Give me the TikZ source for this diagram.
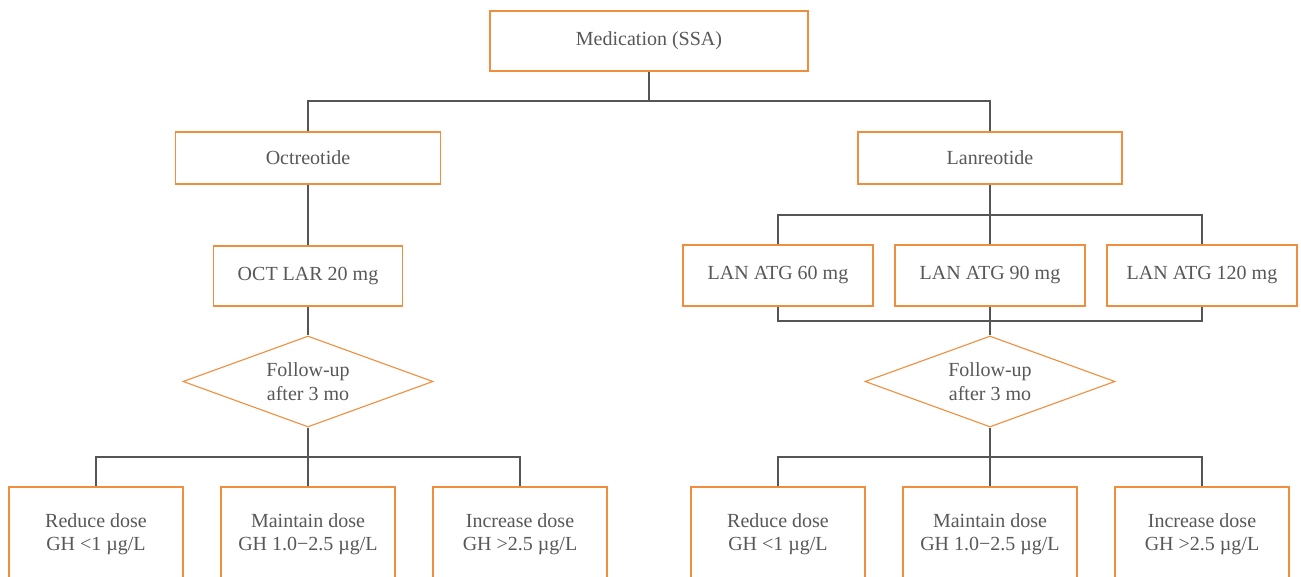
\documentclass[tikz,border=0pt]{standalone}
\usepackage{fontspec}
\setmainfont{Liberation Serif}
\usetikzlibrary{shapes.geometric}
\definecolor{boxorange}{RGB}{241,142,62}
\definecolor{linegray}{RGB}{85,85,85}
\definecolor{textgray}{RGB}{88,88,88}
\begin{document}
\begin{tikzpicture}[x=1pt,y=-1pt,
  box/.style={draw=boxorange, line width=1.2pt, fill=white, text=textgray,
    font=\fontsize{20}{23.5}\selectfont, align=center, inner sep=0pt},
  dmd/.style={diamond, draw=boxorange, line width=1.1pt, fill=white, text=textgray,
    font=\fontsize{20}{23.5}\selectfont, align=center, inner sep=1pt, aspect=2.75,
    minimum width=250pt, minimum height=91pt},
  conn/.style={draw=linegray, line width=1.3pt}]
\clip (0,0) rectangle (1301,577);
% nodes
\node[box, minimum width=318pt, minimum height=60pt] (med) at (649,41) {Medication (SSA)};
\node[box, minimum width=265pt, minimum height=52pt] (oct) at (308,158) {Octreotide};
\node[box, minimum width=264pt, minimum height=52pt] (lan) at (990,158) {Lanreotide};
\node[box, minimum width=189pt, minimum height=60pt] (octlar) at (308,276) {OCT LAR 20 mg};
\node[box, minimum width=190pt, minimum height=61pt] (lan60) at (778,275.5) {LAN ATG 60 mg};
\node[box, minimum width=190pt, minimum height=61pt] (lan90) at (990,275.5) {LAN ATG 90 mg};
\node[box, minimum width=190pt, minimum height=61pt] (lan120) at (1202,275.5) {LAN ATG 120 mg};
\node[dmd] (dl) at (308,381.5) {Follow-up\\after 3 mo};
\node[dmd] (dr) at (990,381.5) {Follow-up\\after 3 mo};
\node[box, minimum width=174pt, minimum height=94pt] (lr) at (96,534) {Reduce dose\\GH <1 µg/L};
\node[box, minimum width=174pt, minimum height=94pt] (lm) at (308,534) {Maintain dose\\GH 1.0−2.5 µg/L};
\node[box, minimum width=174pt, minimum height=94pt] (li) at (520,534) {Increase dose\\GH >2.5 µg/L};
\node[box, minimum width=174pt, minimum height=94pt] (rr) at (778,534) {Reduce dose\\GH <1 µg/L};
\node[box, minimum width=174pt, minimum height=94pt] (rm) at (990,534) {Maintain dose\\GH 1.0−2.5 µg/L};
\node[box, minimum width=174pt, minimum height=94pt] (ri) at (1202,534) {Increase dose\\GH >2.5 µg/L};
% bus coordinates
\coordinate (b1) at (649,101);
\coordinate (b2) at (990,215);
\coordinate (b3) at (990,321);
\coordinate (b4) at (308,457);
\coordinate (b5) at (990,457);
% connectors
\draw[conn] (med.south) -- (b1);
\draw[conn] (oct.north) |- (b1) -| (lan.north);
\draw[conn] (oct.south) -- (octlar.north);
\draw[conn] (octlar.south) -- (dl.north);
\draw[conn] (dl.south) -- (lm.north);
\draw[conn] (lr.north) |- (b4) -| (li.north);
\draw[conn] (lan.south) -- (lan90.north);
\draw[conn] (lan60.north) |- (b2) -| (lan120.north);
\draw[conn] (lan60.south) |- (b3) -| (lan120.south);
\draw[conn] (lan90.south) -- (dr.north);
\draw[conn] (dr.south) -- (rm.north);
\draw[conn] (rr.north) |- (b5) -| (ri.north);
\end{tikzpicture}
\end{document}
